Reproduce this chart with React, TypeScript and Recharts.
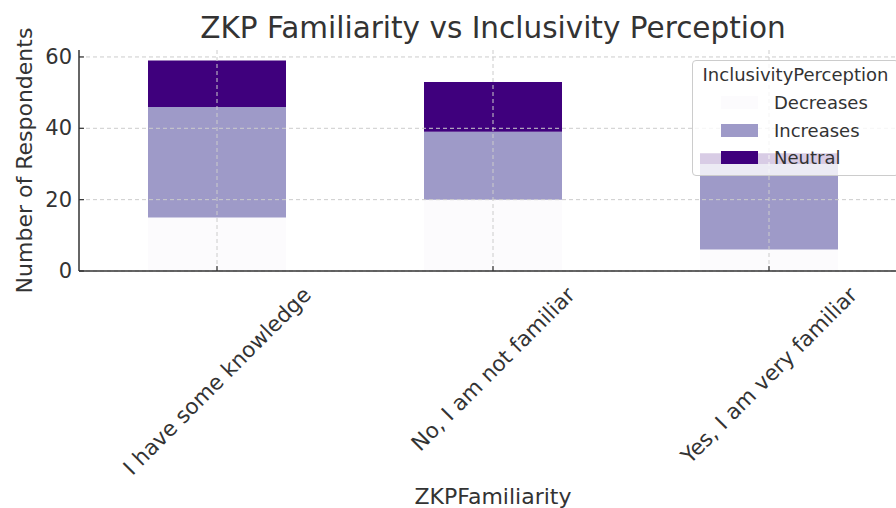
import React from 'react';
import { BarChart, Bar, XAxis, YAxis, CartesianGrid, Legend } from 'recharts';

// ZKP familiarity groups and the counts per inclusivity answer
const familiarity = ['I have some knowledge', 'No, I am not familiar', 'Yes, I am very familiar'];
const decreases = [15, 20, 6];
const increases = [31, 19, 24];
const neutral = [13, 14, 3];
const yTicks = [0, 20, 40, 60];

const COLORS: Record<string, string> = {
  Decreases: '#fcfbfd',
  Increases: '#9e9ac8',
  Neutral: '#3f007d',
};

const FONT = '"DejaVu Sans", sans-serif';
const TEXT = '#333333';

const data = familiarity.map((name, i) => ({
  name,
  Decreases: decreases[i],
  Increases: increases[i],
  Neutral: neutral[i],
}));

const yMax = Math.max(...data.map((d) => d.Decreases + d.Increases + d.Neutral)) * 1.05;

let ctx: CanvasRenderingContext2D | null = null;
const measure = (s: string, font: string) => {
  if (!ctx) ctx = document.createElement('canvas').getContext('2d');
  if (!ctx) return s.length * 12;
  ctx.font = font;
  return ctx.measureText(s).width;
};

const YTick = (props: any) => {
  const { x, y, payload } = props;
  return (
    <g>
      <line x1={x} x2={x + 5} y1={y} y2={y} stroke={TEXT} strokeWidth={1.2} />
      <text
        x={x - 7}
        y={y}
        textAnchor="end"
        dominantBaseline="central"
        fontSize={21}
        fontFamily={FONT}
        fill={TEXT}
      >
        {payload.value}
      </text>
    </g>
  );
};

const XTick = (props: any) => {
  const { x, y, payload } = props;
  const fs = 21.5;
  const w = measure(payload.value, `${fs}px "DejaVu Sans"`);
  const half = ((w + fs * 1.16) * Math.SQRT1_2) / 2;
  const cy = y + 11 + half;
  return (
    <g>
      <line x1={x} x2={x} y1={y} y2={y - 5} stroke={TEXT} strokeWidth={1.2} />
      <text
        x={x}
        y={cy}
        textAnchor="middle"
        dominantBaseline="central"
        transform={`rotate(-45 ${x} ${cy})`}
        fontSize={fs}
        fontFamily={FONT}
        fill={TEXT}
      >
        {payload.value}
      </text>
    </g>
  );
};

const LegendBox = ({ payload }: any) => (
  <div
    style={{
      position: 'relative',
      boxSizing: 'border-box',
      width: 207,
      height: 116,
      border: '1px solid #cccccc',
      borderRadius: 4,
      background: 'rgba(255,255,255,0.8)',
      fontFamily: FONT,
      fontSize: 18,
      color: TEXT,
    }}
  >
    <div style={{ position: 'absolute', top: 3, left: 0, width: '100%', textAlign: 'center', lineHeight: '22px' }}>
      InclusivityPerception
    </div>
    {(payload || []).map((p: any, i: number) => (
      <div
        key={p.value}
        style={{ position: 'absolute', left: 0, top: 28 + i * 27.5, height: 27.5, width: '100%' }}
      >
        <div
          style={{ position: 'absolute', left: 28, top: 7, width: 37, height: 13, background: p.color }}
        />
        <div style={{ position: 'absolute', left: 81, top: 0, lineHeight: '27.5px' }}>{p.value}</div>
      </div>
    ))}
  </div>
);

const App: React.FC = () => {
  return (
    <div
      style={{
        position: 'absolute',
        left: 0,
        top: 0,
        width: 896,
        height: 508,
        overflow: 'hidden',
        background: '#fff',
      }}
    >
      <div
        style={{
          position: 'absolute',
          left: 0,
          top: 14,
          width: 986,
          textAlign: 'center',
          fontFamily: FONT,
          fontSize: 29.5,
          lineHeight: '29.5px',
          color: TEXT,
          whiteSpace: 'nowrap',
        }}
      >
        ZKP Familiarity vs Inclusivity Perception
      </div>
      <BarChart
        width={920}
        height={508}
        data={data}
        margin={{ top: 50, right: 13, left: 0, bottom: 0 }}
        barCategoryGap="25%"
      >
        <XAxis
          dataKey="name"
          height={237}
          interval={0}
          tickSize={0}
          tickMargin={0}
          tickLine={false}
          axisLine={{ stroke: TEXT, strokeWidth: 1.5 }}
          tick={<XTick />}
          label={{
            content: ({ viewBox }: any) => (
              <text
                x={viewBox.x + viewBox.width / 2}
                y={viewBox.y + 233}
                textAnchor="middle"
                fontSize={22}
                fontFamily={FONT}
                fill={TEXT}
              >
                ZKPFamiliarity
              </text>
            ),
          }}
        />
        <YAxis
          width={79}
          domain={[0, yMax]}
          ticks={yTicks}
          tickSize={0}
          tickMargin={0}
          tickLine={false}
          axisLine={{ stroke: TEXT, strokeWidth: 1.5 }}
          tick={<YTick />}
          label={{
            content: ({ viewBox }: any) => {
              const cx = viewBox.x + 24;
              const cy = viewBox.y + viewBox.height / 2;
              return (
                <text
                  x={cx}
                  y={cy}
                  textAnchor="middle"
                  dominantBaseline="central"
                  transform={`rotate(-90 ${cx} ${cy})`}
                  fontSize={22}
                  fontFamily={FONT}
                  fill={TEXT}
                >
                  Number of Respondents
                </text>
              );
            },
          }}
        />
        <Bar dataKey="Decreases" stackId="a" fill={COLORS.Decreases} isAnimationActive={false} />
        <Bar dataKey="Increases" stackId="a" fill={COLORS.Increases} isAnimationActive={false} />
        <Bar dataKey="Neutral" stackId="a" fill={COLORS.Neutral} isAnimationActive={false} />
        <CartesianGrid
          strokeDasharray="4 3"
          stroke="#cccccc"
          strokeWidth={1}
          syncWithTicks
          zIndex={400}
        />
        <Legend
          layout="vertical"
          align="center"
          verticalAlign="middle"
          content={<LegendBox />}
          wrapperStyle={{ position: 'absolute', left: 692, top: 60, width: 207, height: 116 }}
        />
      </BarChart>
    </div>
  );
};

export default App;
